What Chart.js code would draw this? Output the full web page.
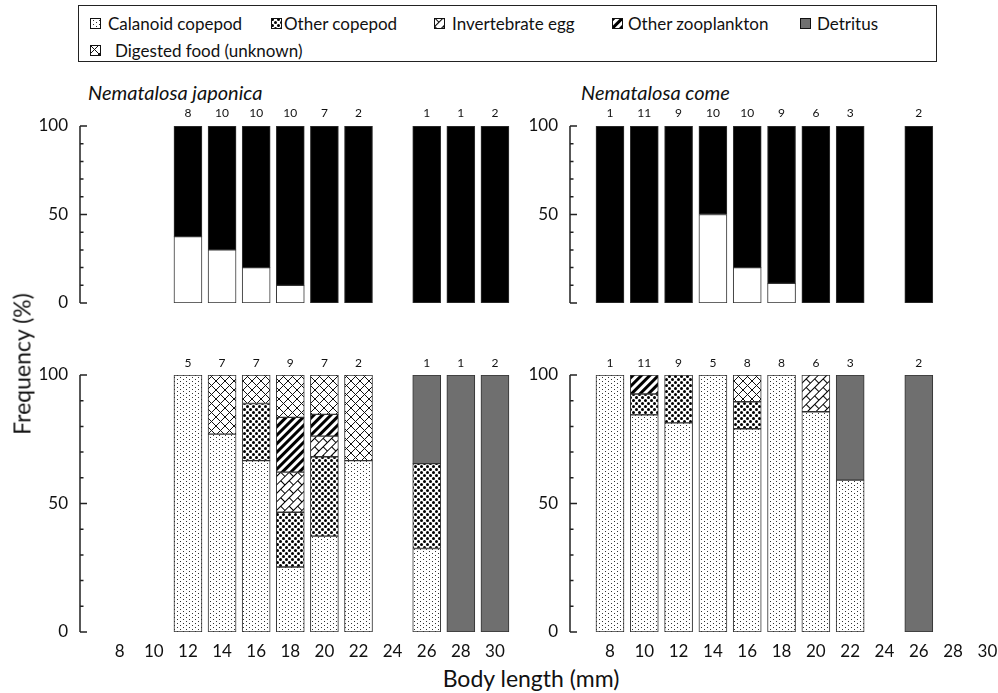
<!DOCTYPE html>
<html>
<head>
<meta charset="utf-8">
<script src="https://cdn.jsdelivr.net/npm/chart.js@4.4.1/dist/chart.umd.min.js"></script>
<style>
  body { margin: 0; width: 998px; height: 693px; background: #fff; position: relative; overflow: hidden;
         font-family: Lato, "Open Sans", sans-serif; color: #111; }
  canvas.panel { position: absolute; }
  #legend { position: absolute; left: 78px; top: 5px; width: 857px; height: 55px; border: 1px solid #222; }
  .item { position: absolute; font-size: 17px; line-height: 17px; white-space: nowrap; }
  .sw { position: absolute; width: 11px; height: 11px; }
  .title { position: absolute; top: 82px; font-size: 20px; line-height: 20px; font-style: italic; white-space: nowrap; }
  .axis-title { position: absolute; font-size: 23px; line-height: 23px; white-space: nowrap; transform: translate(-50%, -50%); }
</style>
</head>
<body>
<div id="legend"></div>

<div class="title" style="left:88px">Nematalosa japonica</div>
<div class="title" style="left:581px">Nematalosa come</div>

<canvas class="panel" id="japTop" width="520" height="250" style="left:0;top:100px"></canvas>
<canvas class="panel" id="japBottom" width="520" height="317" style="left:0;top:345px"></canvas>
<canvas class="panel" id="comTop" width="520" height="250" style="left:500px;top:100px"></canvas>
<canvas class="panel" id="comBottom" width="520" height="317" style="left:500px;top:345px"></canvas>

<div class="axis-title" style="left:22px;top:364px;transform:translate(-50%,-50%) rotate(-90deg)">Frequency (%)</div>
<div class="axis-title" style="left:531px;top:678px">Body length (mm)</div>

<script>
// body length classes shown on the x axis
const xTicks = [8, 10, 12, 14, 16, 18, 20, 22, 24, 26, 28, 30];
const yTicks = [0, 10, 20, 30, 40, 50, 60, 70, 80, 90, 100];

// Nematalosa japonica
const japLengths = [12, 14, 16, 18, 20, 22, 26, 28, 30];
const japCountsTop = [8, 10, 10, 10, 7, 2, 1, 1, 2];
const japEmpty = [37.5, 30, 20, 10, 0, 0, 0, 0, 0];
const japFed = [62.5, 70, 80, 90, 100, 100, 100, 100, 100];
const japCountsBottom = [5, 7, 7, 9, 7, 2, 1, 1, 2];
const japCalanoid = [100, 77, 66.7, 25.3, 37.3, 66.7, 32.5, 0, 0];
const japOtherCop = [0, 0, 22.2, 21.3, 30.9, 0, 33, 0, 0];
const japEgg = [0, 0, 0, 15.6, 8, 0, 0, 0, 0];
const japZoo = [0, 0, 0, 21.3, 8.5, 0, 0, 0, 0];
const japDigested = [0, 23, 11.1, 16.5, 15.3, 33.3, 0, 0, 0];
const japDetritus = [0, 0, 0, 0, 0, 0, 34.5, 100, 100];

// Nematalosa come
const comLengths = [8, 10, 12, 14, 16, 18, 20, 22, 26];
const comCountsTop = [1, 11, 9, 10, 10, 9, 6, 3, 2];
const comEmpty = [0, 0, 0, 50, 20, 11.1, 0, 0, 0];
const comFed = [100, 100, 100, 50, 80, 88.9, 100, 100, 100];
const comCountsBottom = [1, 11, 9, 5, 8, 8, 6, 3, 2];
const comCalanoid = [100, 84.5, 81.4, 100, 79.1, 100, 85.7, 59.1, 0];
const comOtherCop = [0, 8.1, 18.6, 0, 10.5, 0, 0, 0, 0];
const comEgg = [0, 0, 0, 0, 0, 0, 14.3, 0, 0];
const comZoo = [0, 7.4, 0, 0, 0, 0, 0, 0, 0];
const comDigested = [0, 0, 0, 0, 10.4, 0, 0, 0, 0];
const comDetritus = [0, 0, 0, 0, 0, 0, 0, 40.9, 100];

const preyNames = ['Calanoid copepod', 'Other copepod', 'Invertebrate egg', 'Other zooplankton', 'Detritus', 'Digested food (unknown)'];

// ---- fill patterns ----
const pctx = document.createElement('canvas').getContext('2d');
function tile(w, h, draw) {
  const c = document.createElement('canvas');
  c.width = w; c.height = h;
  const g = c.getContext('2d');
  g.fillStyle = '#fff';
  g.fillRect(0, 0, w, h);
  draw(g);
  return c;
}
function pattern(c, angle) {
  const p = pctx.createPattern(c, 'repeat');
  if (angle) p.setTransform(new DOMMatrix().rotateSelf(angle));
  return p;
}

const fills = {
  'Calanoid copepod': pattern(tile(6, 4, g => {
    g.fillStyle = '#333';
    g.fillRect(0, 0, 1, 1);
    g.fillRect(3, 2, 1, 1);
  })),
  'Other copepod': pattern(tile(6, 6, g => {
    g.fillStyle = '#000';
    g.beginPath();
    g.arc(1.5, 1.5, 1.5, 0, Math.PI * 2);
    g.arc(4.5, 4.5, 1.5, 0, Math.PI * 2);
    g.fill();
  })),
  'Invertebrate egg': pattern(tile(12, 12, g => {
    g.strokeStyle = '#000';
    g.lineWidth = 1;
    g.beginPath();
    g.moveTo(0, 0.5); g.lineTo(12, 0.5);
    g.moveTo(0, 6.5); g.lineTo(12, 6.5);
    g.moveTo(0.5, 0); g.lineTo(0.5, 6.5);
    g.moveTo(6.5, 6.5); g.lineTo(6.5, 12);
    g.stroke();
  }), -45),
  'Other zooplankton': pattern(tile(6, 6, g => {
    g.fillStyle = '#000';
    g.fillRect(0, 0, 6, 3);
  }), -45),
  'Detritus': '#6f6f6f',
  'Digested food (unknown)': pattern(tile(9, 9, g => {
    g.strokeStyle = '#111';
    g.lineWidth = 1;
    g.beginPath();
    g.moveTo(0, 0); g.lineTo(9, 9);
    g.moveTo(0, 9); g.lineTo(9, 0);
    g.stroke();
  }))
};

// ---- legend: [swatch x, text x, row] inside the box ----
const legendPos = [[11, 29, 0], [192, 205, 0], [355, 373, 0], [533, 549, 0], [721, 738, 0], [11, 36, 1]];
const legend = document.getElementById('legend');
preyNames.forEach((name, i) => {
  const [sx, tx, row] = legendPos[i];
  const sw = document.createElement('canvas');
  sw.className = 'sw';
  sw.width = 11; sw.height = 11;
  sw.style.left = sx + 'px';
  sw.style.top = (12 + row * 27) + 'px';
  const g = sw.getContext('2d');
  g.fillStyle = fills[name];
  g.fillRect(0, 0, 11, 11);
  g.strokeStyle = '#111';
  g.strokeRect(0.5, 0.5, 10, 10);
  legend.appendChild(sw);
  const t = document.createElement('div');
  t.className = 'item';
  t.textContent = name;
  t.style.left = tx + 'px';
  t.style.top = (9 + row * 27) + 'px';
  legend.appendChild(t);
});

// ---- axis line with inward ticks, and sample sizes above bars ----
const panelDecor = {
  id: 'panelDecor',
  afterDraw(chart, args, opts) {
    const { ctx, chartArea, scales: { x, y } } = chart;
    ctx.save();
    ctx.strokeStyle = '#222';
    ctx.lineWidth = 1.5;
    const ax = chartArea.left;
    ctx.beginPath();
    ctx.moveTo(ax, y.getPixelForValue(0));
    ctx.lineTo(ax, y.getPixelForValue(100));
    yTicks.forEach(v => {
      const py = y.getPixelForValue(v);
      ctx.moveTo(ax, py);
      ctx.lineTo(ax + (v % 50 === 0 ? 7 : 3.5), py);
    });
    ctx.stroke();
    ctx.fillStyle = '#111';
    ctx.font = '12px Lato';
    ctx.textAlign = 'center';
    ctx.textBaseline = 'middle';
    opts.lengths.forEach((l, i) => {
      ctx.fillText(String(opts.counts[i]), x.getPixelForValue(l), chartArea.top - opts.gap);
    });
    ctx.restore();
  }
};

function series(lengths, values) {
  return lengths.map((l, i) => ({ x: l, y: values[i] > 0 ? values[i] : null }));
}

function makeChart(id, cfg) {
  const datasets = cfg.layers.map(([label, values, fill]) => ({
    label,
    data: series(cfg.lengths, values),
    backgroundColor: fill,
    borderColor: '#333',
    borderWidth: 1,
    borderSkipped: false,
    barThickness: 28
  }));
  return new Chart(document.getElementById(id), {
    type: 'bar',
    data: { datasets },
    plugins: [panelDecor],
    options: {
      responsive: false,
      animation: false,
      devicePixelRatio: 1,
      layout: { padding: cfg.padding },
      plugins: {
        legend: { display: false },
        tooltip: { enabled: false },
        panelDecor: { lengths: cfg.lengths, counts: cfg.counts, gap: cfg.gap }
      },
      scales: {
        x: {
          type: 'linear',
          offset: false,
          min: 5.67,
          max: cfg.xMax,
          stacked: true,
          display: cfg.showX,
          border: { display: false },
          grid: { display: false, drawTicks: false },
          afterBuildTicks: s => { s.ticks = xTicks.map(v => ({ value: v })); },
          afterFit: s => { s.height = 30; },
          ticks: {
            autoSkip: false,
            maxRotation: 0,
            padding: 9,
            color: '#111',
            font: { family: 'Lato', size: 17 }
          }
        },
        y: {
          min: 0,
          max: 100,
          stacked: true,
          border: { display: false },
          grid: { display: false, drawTicks: false },
          afterFit: s => { s.width = cfg.axisWidth; },
          afterBuildTicks: s => { s.ticks = yTicks.map(v => ({ value: v })); },
          ticks: {
            autoSkip: false,
            padding: 12,
            color: '#111',
            font: { family: 'Lato', size: 17 },
            callback: v => (v % 50 === 0 && (v > 0 || cfg.zeroLabel) ? v : '')
          }
        }
      }
    }
  });
}

const F = fills;
makeChart('japTop', {
  lengths: japLengths, counts: japCountsTop, gap: 13, showX: false, zeroLabel: true,
  xMax: 31, axisWidth: 80, padding: { top: 26, bottom: 17, right: 8 },
  layers: [['Empty', japEmpty, '#fff'], ['With food', japFed, '#000']]
});
makeChart('comTop', {
  lengths: comLengths, counts: comCountsTop, gap: 13, showX: false, zeroLabel: false,
  xMax: 30.5, axisWidth: 70, padding: { top: 26, bottom: 17, right: 24 },
  layers: [['Empty', comEmpty, '#fff'], ['With food', comFed, '#000']]
});
makeChart('japBottom', {
  lengths: japLengths, counts: japCountsBottom, gap: 12, showX: true, zeroLabel: true,
  xMax: 31, axisWidth: 80, padding: { top: 30, right: 8 },
  layers: [
    [preyNames[0], japCalanoid, F[preyNames[0]]],
    [preyNames[1], japOtherCop, F[preyNames[1]]],
    [preyNames[2], japEgg, F[preyNames[2]]],
    [preyNames[3], japZoo, F[preyNames[3]]],
    [preyNames[5], japDigested, F[preyNames[5]]],
    [preyNames[4], japDetritus, F[preyNames[4]]]
  ]
});
makeChart('comBottom', {
  lengths: comLengths, counts: comCountsBottom, gap: 12, showX: true, zeroLabel: true,
  xMax: 30.5, axisWidth: 70, padding: { top: 30, right: 24 },
  layers: [
    [preyNames[0], comCalanoid, F[preyNames[0]]],
    [preyNames[1], comOtherCop, F[preyNames[1]]],
    [preyNames[2], comEgg, F[preyNames[2]]],
    [preyNames[3], comZoo, F[preyNames[3]]],
    [preyNames[5], comDigested, F[preyNames[5]]],
    [preyNames[4], comDetritus, F[preyNames[4]]]
  ]
});
</script>
</body>
</html>
